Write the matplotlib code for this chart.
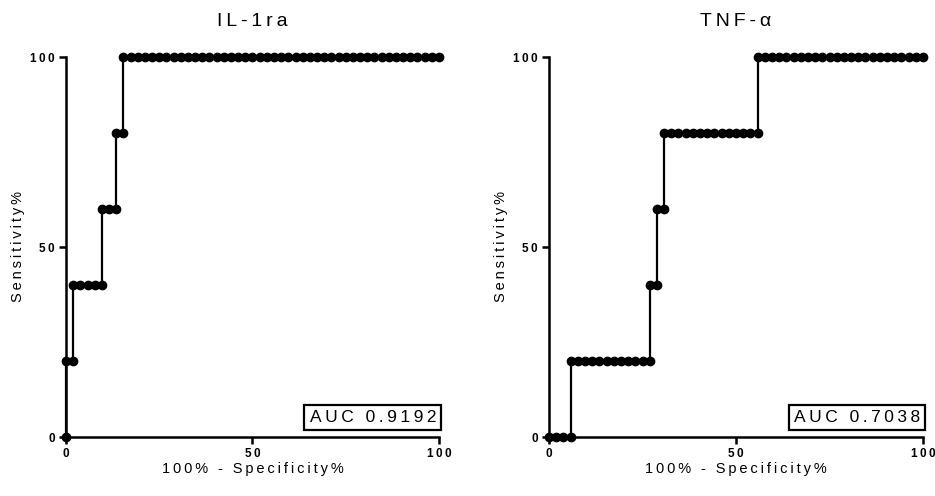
import matplotlib
matplotlib.use("Agg")
from matplotlib import pyplot as plt
import numpy as np

# ROC data: 52 controls, 5 cases -> FPR steps of 100/52, sensitivity steps of 20
n_controls = 52
il1ra_fp = [0, 0, 1, 1, 2, 3, 4, 5, 5, 6, 7, 7, 8, 8] + list(range(9, 53))
il1ra_sens = [0, 20, 20, 40, 40, 40, 40, 40, 60, 60, 60, 80, 80, 100] + [100] * 44

tnf_fp = [0, 1, 2, 3, 3] + list(range(4, 15)) + [14, 15, 15, 16, 16] + list(range(17, 30)) + [29] + list(range(30, 53))
tnf_sens = [0, 0, 0, 0, 20] + [20] * 11 + [40, 40, 60, 60, 80] + [80] * 13 + [100] + [100] * 23

titles = ["IL-1ra", "TNF-α"]
aucs = ["AUC 0.9192", "AUC 0.7038"]

plt.rcParams['font.family'] = ['Liberation Sans', 'DejaVu Sans']


def spaced(s):
    return "\u2009".join(s)


fig = plt.figure(figsize=(9.35, 4.96), dpi=100)
ax1 = fig.add_axes([66 / 935, 59 / 496, 373 / 935, 380 / 496])
ax2 = fig.add_axes([549 / 935, 59 / 496, 374 / 935, 380 / 496])

series = [(il1ra_fp, il1ra_sens), (tnf_fp, tnf_sens)]
for ax, (fp, sens), title, auc in zip([ax1, ax2], series, titles, aucs):
    x = np.array(fp) * 100.0 / n_controls
    ax.plot(x, sens, color="black", lw=1.6, marker="o", ms=6, clip_on=False, zorder=3)
    ax.set_xlim(0, 100)
    ax.set_ylim(0, 100)
    ax.set_xticks([0, 50, 100])
    ax.set_yticks([0, 50, 100])
    ax.set_xticklabels([spaced(t) for t in ["0", "50", "100"]], fontweight="bold", fontsize=8.5)
    ax.set_yticklabels([spaced(t) for t in ["0", "50", "100"]], fontweight="bold", fontsize=8.5)
    for side in ["top", "right"]:
        ax.spines[side].set_visible(False)
    for side in ["left", "bottom"]:
        ax.spines[side].set_linewidth(1.8)
    ax.tick_params(direction="out", length=5, width=1.8, pad=3)
    ax.set_title(spaced(title), fontsize=14, pad=22)
    ax.set_xlabel(spaced("100% - Specificity%"), fontsize=10.5, labelpad=1)
    ax.set_ylabel(spaced("Sensitivity%"), fontsize=10.5, labelpad=4)
    ax.text(0.992, 0.032, spaced(auc), transform=ax.transAxes, ha="right", va="bottom",
            fontsize=12.5, bbox=dict(boxstyle="square,pad=0.3", fc="white", ec="black", lw=1.6))

fig.savefig("out.png", dpi=100)
